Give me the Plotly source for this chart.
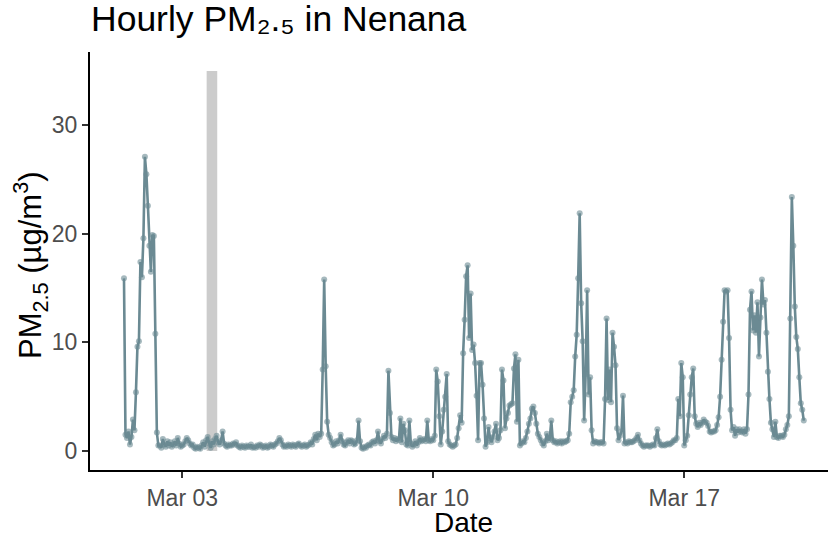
import pandas as pd
import plotly.graph_objects as go

# ---- data (hourly PM2.5, µg/m³) ----
start_time = "2023-03-01 09:00"
mar01 = [15.9, 1.5, 1.2, 1.8, 0.6, 1.3, 2.9, 1.9, 5.4, 9.6, 10.1, 17.4, 16.0, 19.6, 27.1]
mar02 = [25.5, 22.6, 18.9, 16.5, 19.9, 19.8, 10.8, 1.7, 0.5, 0.5, 0.3, 1.1, 0.6, 0.4, 0.9, 0.5,
         0.8, 0.4, 0.6, 0.9, 0.5, 1.2, 0.7, 0.4]
mar03 = [0.5, 0.6, 0.9, 1.2, 1.0, 0.7, 0.5, 0.6, 0.3, 0.2, 0.4, 0.3, 0.2, 0.5, 0.8, 0.4,
         1.0, 1.3, 0.7, 0.3, 0.9, 0.6, 1.1, 1.4]
mar04 = [0.8, 0.6, 1.0, 1.8, 0.7, 0.5, 0.4, 0.6, 0.5, 0.5, 0.7, 0.6, 0.8, 0.5, 0.4, 0.3,
         0.5, 0.4, 0.3, 0.5, 0.4, 0.4, 0.6, 0.3]
mar05 = [0.4, 0.3, 0.5, 0.4, 0.6, 0.5, 0.3, 0.4, 0.5, 0.3, 0.4, 0.6, 0.5, 0.4, 0.6, 0.7,
         0.9, 1.2, 1.0, 0.6, 0.4, 0.5, 0.4, 0.6]
mar06 = [0.5, 0.4, 0.6, 0.5, 0.4, 0.6, 0.7, 0.5, 0.4, 0.5, 0.6, 0.4, 0.5, 0.6, 0.8, 0.6,
         1.1, 1.5, 1.0, 1.6, 1.3, 1.6, 7.5, 15.8]
mar07 = [7.8, 2.7, 1.5, 1.2, 0.8, 0.5, 0.6, 0.9, 0.7, 1.0, 1.5, 0.9, 0.6, 0.5, 0.8, 1.0,
         0.7, 1.0, 0.9, 0.6, 0.7, 1.0, 2.8, 0.9]
mar08 = [0.3, 0.2, 0.4, 0.3, 0.5, 0.6, 0.5, 0.8, 0.9, 0.7, 1.0, 1.8, 0.9, 0.7, 1.1, 1.4,
         1.2, 1.6, 7.4, 3.5, 1.3, 1.0, 1.2, 0.9]
mar09 = [1.1, 1.0, 3.0, 0.8, 2.5, 1.9, 0.6, 0.5, 2.8, 0.7, 0.4, 0.6, 0.9, 0.5, 0.8, 1.2,
         0.9, 1.0, 1.1, 0.9, 2.8, 1.0, 0.9, 1.1]
mar10 = [1.0, 1.4, 7.5, 6.4, 3.2, 0.6, 1.8, 3.8, 5.0, 7.1, 0.9, 0.6, 0.5, 0.4, 0.5, 0.6,
         1.2, 2.1, 3.3, 2.6, 9.0, 12.1, 16.1, 17.1]
mar11 = [10.4, 14.5, 9.3, 9.8, 8.1, 5.1, 1.0, 8.1, 8.1, 6.1, 3.0, 0.4, 0.8, 2.2, 1.2, 0.8,
         1.3, 1.8, 2.5, 1.0, 1.2, 1.9, 7.5, 6.5]
mar12 = [2.1, 3.0, 3.5, 4.2, 4.3, 4.4, 7.6, 8.9, 2.7, 8.4, 0.5, 0.7, 0.9, 0.8, 1.2, 1.8,
         2.5, 3.0, 3.9, 4.1, 3.5, 2.5, 1.6, 1.3]
mar13 = [1.0, 0.7, 0.5, 0.9, 1.6, 1.0, 1.2, 2.8, 1.0, 0.8, 0.9, 0.7, 0.8, 0.9, 0.7, 0.9,
         0.8, 0.9, 1.0, 1.6, 4.5, 5.0, 5.6, 8.7]
mar14 = [10.7, 15.9, 21.9, 13.6, 10.1, 2.8, 7.1, 14.8, 5.2, 6.8, 1.9, 0.7, 0.9, 0.8, 0.8, 0.7,
         0.8, 0.8, 0.7, 4.8, 12.2, 4.7, 7.5, 4.5]
mar15 = [10.9, 9.6, 7.9, 2.1, 1.0, 1.4, 1.8, 5.1, 0.7, 0.8, 0.7, 0.9, 0.8, 0.8, 0.9, 1.0,
         1.2, 1.5, 1.0, 0.7, 0.5, 0.4, 0.5, 0.5]
mar16 = [0.5, 0.4, 0.5, 0.6, 0.5, 1.2, 2.0, 0.9, 0.6, 0.5, 0.6, 0.5, 0.6, 0.7, 0.6, 0.7,
         0.8, 1.0, 1.0, 1.2, 4.8, 3.2, 8.1, 6.8]
mar17 = [0.5, 1.0, 1.4, 3.3, 5.2, 6.8, 7.6, 3.2, 2.5, 2.2, 2.6, 2.4, 2.6, 2.9, 2.7, 2.6,
         2.3, 1.8, 1.7, 1.8, 1.8, 1.9, 2.4, 3.1]
mar18 = [5.0, 8.4, 11.9, 14.8, 14.7, 14.8, 10.4, 3.8, 1.9, 2.2, 1.4, 2.0, 1.7, 2.0, 1.8, 1.7,
         2.0, 1.6, 2.0, 5.2, 13.0, 14.7, 11.1, 12.5]
mar19 = [10.9, 13.7, 8.7, 12.3, 15.8, 13.5, 13.9, 10.9, 7.3, 4.8, 2.6, 2.0, 1.3, 2.7, 1.3, 1.2,
         1.4, 1.4, 1.3, 1.5, 2.0, 2.4, 3.2, 12.2]
mar20 = [23.4, 18.9, 13.3, 10.5, 9.4, 6.8, 4.4, 3.8, 2.8]

band_start = "2023-03-03 16:20"
band_end = "2023-03-03 23:25"
band_top = 35

x_tickvals = ["2023-03-03", "2023-03-10", "2023-03-17"]
x_ticktext = ["Mar 03", "Mar 10", "Mar 17"]
y_tickvals = [0, 10, 20, 30]

pm25 = (mar01 + mar02 + mar03 + mar04 + mar05 + mar06 + mar07 + mar08 + mar09 + mar10 +
        mar11 + mar12 + mar13 + mar14 + mar15 + mar16 + mar17 + mar18 + mar19 + mar20)
times = pd.date_range(start_time, periods=len(pm25), freq="h")

# ---- layout geometry ----
W, H = 828, 540
L, R, T, B = 90, 0, 52, 70
plot_w = W - L - R
plot_h = H - T - B
px_per_day = 35.857

x0 = times[0] - pd.Timedelta(hours=0.05 * (len(pm25) - 1))
x1 = x0 + pd.Timedelta(days=plot_w / px_per_day)

def px_to_paper_x(px):
    return (px - L) / plot_w

def px_to_paper_y(py):
    return (H - B - py) / plot_h

FONT = "Liberation Sans, Arial, Helvetica, sans-serif"
LINE_COLOR = "#6B8A93"

fig = go.Figure()
fig.add_shape(type="rect", xref="x", yref="y", x0=band_start, x1=band_end, y0=0, y1=band_top,
              fillcolor="#cccccc", line_width=0, layer="below")
fig.add_trace(go.Scatter(
    x=times, y=pm25, mode="lines+markers",
    line=dict(color=LINE_COLOR, width=2.6),
    marker=dict(color="rgba(107,138,147,0.6)", size=6, line=dict(width=0)),
    showlegend=False, hoverinfo="x+y"))

axis_common = dict(showgrid=False, zeroline=False, showline=True, linecolor="black", linewidth=2,
                   ticks="outside", ticklen=6, tickwidth=2, tickcolor="#333333",
                   tickfont=dict(family=FONT, size=23, color="#4d4d4d"))

fig.update_layout(
    width=W, height=H,
    margin=dict(l=L, r=R, t=T, b=B, pad=0),
    paper_bgcolor="white", plot_bgcolor="white",
    font=dict(family=FONT),
    xaxis=dict(type="date", range=[x0, x1], tickvals=x_tickvals, ticktext=x_ticktext,
               automargin=False, **axis_common),
    yaxis=dict(range=[-1.75, 36.75], tickvals=y_tickvals, automargin=False, **axis_common),
    annotations=[
        dict(text="Hourly PM₂.₅ in Nenana", xref="paper", yref="paper",
             x=px_to_paper_x(89), y=px_to_paper_y(19), xanchor="left", yanchor="middle",
             showarrow=False, font=dict(family=FONT, size=35.5, color="black")),
        dict(text="Date", xref="paper", yref="paper",
             x=px_to_paper_x(463), y=px_to_paper_y(522), xanchor="center", yanchor="middle",
             showarrow=False, font=dict(family=FONT, size=28, color="black")),
        dict(text="PM<sub>2.5</sub> (µg/m<sup>3</sup>)", xref="paper", yref="paper",
             x=px_to_paper_x(30), y=px_to_paper_y(265), xanchor="center", yanchor="middle",
             textangle=-90, showarrow=False, font=dict(family=FONT, size=31, color="black")),
    ],
)

fig.write_html("out.html", config={"displayModeBar": False},
               post_script="document.body.style.margin='0';document.body.style.padding='0';")
